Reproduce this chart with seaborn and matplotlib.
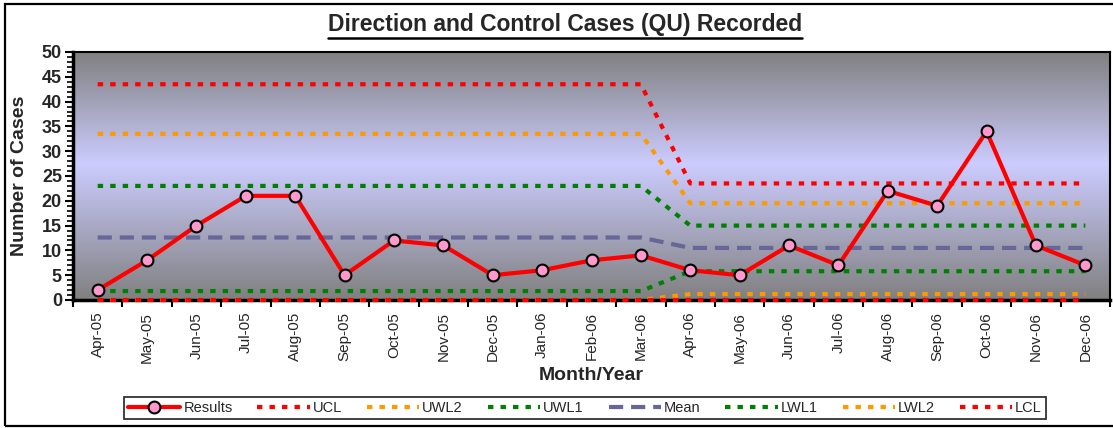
import numpy as np
import pandas as pd
import matplotlib
matplotlib.use("Agg")
import matplotlib.pyplot as plt
import seaborn as sns
from matplotlib.patches import Rectangle
from matplotlib.colors import LinearSegmentedColormap
from matplotlib.font_manager import FontProperties

# ---- data ----
months = ["Apr-05", "May-05", "Jun-05", "Jul-05", "Aug-05", "Sep-05", "Oct-05",
          "Nov-05", "Dec-05", "Jan-06", "Feb-06", "Mar-06", "Apr-06", "May-06",
          "Jun-06", "Jul-06", "Aug-06", "Sep-06", "Oct-06", "Nov-06", "Dec-06"]
results = [2, 8, 15, 21, 21, 5, 12, 11, 5, 6, 8, 9, 6, 5, 11, 7, 22, 19, 34, 11, 7]
ucl  = [43.5] * 12 + [23.5] * 9
uwl2 = [33.5] * 12 + [19.5] * 9
uwl1 = [23.0] * 12 + [15.0] * 9
mean = [12.6] * 12 + [10.5] * 9
lwl1 = [1.8] * 12 + [5.8] * 9
lwl2 = [0.0] * 12 + [1.2] * 9
lcl  = [0.0] * 12 + [0.0] * 9

title = "Direction and Control Cases (QU) Recorded"
y_label = "Number of Cases"
x_label = "Month/Year"

sns.set_theme(style="white")
plt.rcParams['font.family'] = ['Liberation Sans', 'DejaVu Sans']

W, H = 1113, 428
fig = plt.figure(figsize=(W / 100, H / 100), dpi=100)
fig.patch.set_facecolor("white")

# outer chart border
fig.add_artist(Rectangle((5 / W, 1 - 426 / H), 1.2, (426 - 4) / H,
                         transform=fig.transFigure, fill=False,
                         edgecolor="black", linewidth=1.6, zorder=0))

left, right, top, bottom = 73, 1110, 52, 300
ax = fig.add_axes([left / W, 1 - bottom / H, (right - left) / W, (bottom - top) / H])

# gradient background
cmap = LinearSegmentedColormap.from_list(
    "bg", [(0.0, "#808080"), (0.55, "#CCCCFF"), (1.0, "#808080")])
grad = np.linspace(0, 1, 256).reshape(-1, 1)
ax.imshow(grad, aspect="auto", cmap=cmap, extent=[-0.5, 20.5, 0, 50],
          origin="lower", zorder=0)

x = np.arange(len(months))
df = pd.DataFrame({"x": x, "Results": results, "UCL": ucl, "UWL2": uwl2,
                   "UWL1": uwl1, "Mean": mean, "LWL1": lwl1, "LWL2": lwl2,
                   "LCL": lcl})

dot = (0, (1.3, 1.7))
styles = [
    ("UCL", "#FF0000", dot, 3.0),
    ("UWL2", "#FF9900", dot, 3.0),
    ("UWL1", "#008000", dot, 3.0),
    ("Mean", "#666699", (0, (3.4, 1.9)), 3.0),
    ("LWL1", "#008000", dot, 3.0),
    ("LWL2", "#FF9900", dot, 3.0),
    ("LCL", "#FF0000", dot, 3.0),
]
for name, col, ls, lw in styles:
    sns.lineplot(data=df, x="x", y=name, ax=ax, color=col, linewidth=lw,
                 label=name, zorder=3)
    ln = ax.lines[-1]
    ln.set_linestyle(ls)
    ln.set_clip_on(False)
    ln.set_dash_capstyle("butt")

sns.lineplot(data=df, x="x", y="Results", ax=ax, color="#FF0000", linewidth=3.0,
             marker="o", markersize=8.5, markerfacecolor="#FF99CC",
             markeredgecolor="black", markeredgewidth=1.5, label="Results",
             zorder=5)
ax.lines[-1].set_clip_on(False)

ax.set_xlim(-0.5, 20.5)
ax.set_ylim(0, 50)
ax.set_xticks(x)
ax.set_xticklabels(months, rotation=90, fontsize=11)
ax.set_yticks(np.arange(0, 51, 5))
ax.set_yticks(np.arange(0, 51, 1), minor=True)
ax.tick_params(axis="y", which="major", direction="out", length=6, width=1.5,
               labelsize=13, left=True, pad=2, color="black")
ax.tick_params(axis="y", which="minor", direction="out", length=4, width=1.2,
               left=True, color="black")
ax.tick_params(axis="x", which="major", length=0, pad=8.5)
for lbl in ax.get_yticklabels():
    lbl.set_fontweight("bold")
# x tick marks between categories
ax.set_xticks(np.arange(-0.5, 21, 1), minor=True)
ax.tick_params(axis="x", which="minor", direction="out", length=5, width=1.5,
               bottom=True, color="black")

for s in ["left", "bottom"]:
    ax.spines[s].set_linewidth(2.5)
    ax.spines[s].set_color("black")
for s in ["top", "right"]:
    ax.spines[s].set_linewidth(1.5)
    ax.spines[s].set_color("black")

ax.set_xlabel(x_label, fontsize=14, fontweight="bold")
ax.set_ylabel(y_label, fontsize=14, fontweight="bold")
ax.xaxis.set_label_coords(0.5, -(376 - bottom) / (bottom - top))
ax.xaxis.label.set_va("center")
ax.yaxis.set_label_coords(-(left - 20) / (right - left), 0.5)
ax.yaxis.label.set_va("center")

t = fig.text(565 / W, 1 - 25 / H, title, ha="center", va="center",
             fontproperties=FontProperties(family="Liberation Sans",
                                           weight="bold", size=16.5))
# underline title
fig.canvas.draw()
bb = t.get_window_extent()
fig.add_artist(plt.Line2D([bb.x0 / W, bb.x1 / W], [(bb.y0 - 1) / H, (bb.y0 - 1) / H],
                          transform=fig.transFigure, color="black", linewidth=1.8))

# legend
ax.get_legend().remove()
handles, labels = ax.get_legend_handles_labels()
order = ["Results", "UCL", "UWL2", "UWL1", "Mean", "LWL1", "LWL2", "LCL"]
hmap = dict(zip(labels, handles))
leg = fig.legend([hmap[o] for o in order], order, loc="center",
                 bbox_to_anchor=(585 / W, 1 - 408 / H), ncol=8, fontsize=10.5,
                 frameon=True, fancybox=False, edgecolor="black",
                 handlelength=3.6, handletextpad=0.2, columnspacing=1.7,
                 borderpad=0.3)
leg.get_frame().set_linewidth(1.3)

fig.savefig("out.png", dpi=100)
